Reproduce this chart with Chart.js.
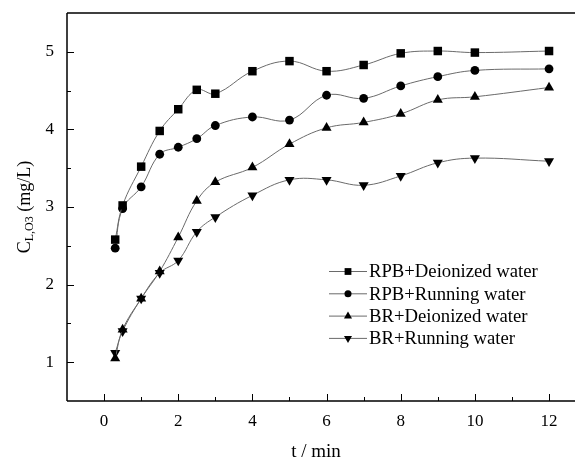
<!DOCTYPE html>
<html lang="en">
<head>
<meta charset="UTF-8">
<title>Ozone concentration vs time</title>
<script src="https://cdn.jsdelivr.net/npm/chart.js@4.4.0/dist/chart.umd.min.js"></script>
<style>
  html, body { margin: 0; padding: 0; background: #fff; }
  #wrap { width: 575px; height: 461px; }
</style>
</head>
<body>
<div id="wrap"><canvas id="myChart" width="575" height="461"></canvas></div>
<script>
// data
const times = [0.3, 0.5, 1, 1.5, 2, 2.5, 3, 4, 5, 6, 7, 8, 9, 10, 12];
const rpbDeionized = [2.58, 3.02, 3.52, 3.98, 4.26, 4.51, 4.46, 4.75, 4.88, 4.75, 4.83, 4.98, 5.01, 4.99, 5.01];
const rpbRunning   = [2.47, 2.98, 3.26, 3.68, 3.77, 3.88, 4.05, 4.16, 4.12, 4.44, 4.40, 4.56, 4.68, 4.76, 4.78];
const brDeionized  = [1.05, 1.42, 1.82, 2.17, 2.61, 3.08, 3.32, 3.51, 3.81, 4.02, 4.09, 4.20, 4.38, 4.42, 4.54];
const brRunning    = [1.12, 1.40, 1.82, 2.15, 2.31, 2.68, 2.87, 3.15, 3.35, 3.35, 3.28, 3.40, 3.57, 3.63, 3.59];

const seriesLabels = ["RPB+Deionized water", "RPB+Running water", "BR+Deionized water", "BR+Running water"];
const xTicks = [0, 1, 2, 3, 4, 5, 6, 7, 8, 9, 10, 11, 12];
const xTickLabels = [0, 2, 4, 6, 8, 10, 12];
const yTicks = [1, 1.5, 2, 2.5, 3, 3.5, 4, 4.5, 5];
const yTickLabels = [1, 2, 3, 4, 5];
const xTitle = "t / min";
const yTitleMain = "C";
const yTitleSub = "L,O3";
const yTitleUnit = " (mg/L)";

const FONT = "'Liberation Serif', 'Times New Roman', serif";

const markers = [
  { style: "rect", rot: 0, r: 6 },
  { style: "circle", rot: 0, r: 4.4 },
  { style: "triangle", rot: 0, r: 5.8 },
  { style: "triangle", rot: 180, r: 5.8 }
];

function pts(ys) {
  return times.map((t, i) => ({ x: t, y: ys[i] }));
}

const allSeries = [rpbDeionized, rpbRunning, brDeionized, brRunning];
const datasets = allSeries.map((ys, i) => ({
  label: seriesLabels[i],
  data: pts(ys),
  borderColor: "#6a6a6a",
  borderWidth: 1,
  tension: 0.4,
  fill: false,
  pointStyle: markers[i].style,
  rotation: markers[i].rot,
  pointRadius: markers[i].r,
  pointBackgroundColor: "#000",
  pointBorderColor: "#000",
  pointBorderWidth: 0
}));

function drawMarker(ctx, m, x, y, scale) {
  ctx.fillStyle = "#000";
  ctx.strokeStyle = "#000";
  if (Chart.helpers && Chart.helpers.drawPoint) {
    Chart.helpers.drawPoint(ctx, { pointStyle: m.style, rotation: m.rot, radius: m.r * scale, borderWidth: 0 }, x, y);
    return;
  }
  ctx.beginPath();
  ctx.arc(x, y, m.r * scale, 0, Math.PI * 2);
  ctx.fill();
}

// axes frame, inward ticks, titles and legend
const decorations = {
  id: "decorations",
  afterDraw(chart) {
    const ctx = chart.ctx;
    const a = chart.chartArea;
    const xs = chart.scales.x, ys = chart.scales.y;
    ctx.save();
    ctx.strokeStyle = "#000";
    ctx.lineWidth = 1.5;
    ctx.beginPath();
    ctx.moveTo(a.left, a.top); ctx.lineTo(a.right, a.top);
    ctx.moveTo(a.left, a.top); ctx.lineTo(a.left, a.bottom);
    ctx.moveTo(a.left, a.bottom); ctx.lineTo(a.right, a.bottom);
    ctx.stroke();

    ctx.lineWidth = 1;
    ctx.beginPath();
    xTicks.forEach(v => {
      const px = Math.round(xs.getPixelForValue(v)) + 0.5;
      const len = xTickLabels.includes(v) ? 7 : 4;
      ctx.moveTo(px, a.bottom);
      ctx.lineTo(px, a.bottom - len);
    });
    yTicks.forEach(v => {
      const py = Math.round(ys.getPixelForValue(v)) + 0.5;
      const len = yTickLabels.includes(v) ? 7 : 4;
      ctx.moveTo(a.left, py);
      ctx.lineTo(a.left + len, py);
    });
    ctx.stroke();

    // x title
    ctx.fillStyle = "#000";
    ctx.font = "19px " + FONT;
    ctx.textAlign = "center";
    ctx.textBaseline = "middle";
    ctx.fillText(xTitle, 316, 452);

    // y title with subscript
    ctx.save();
    ctx.translate(24, (a.top + a.bottom) / 2);
    ctx.rotate(-Math.PI / 2);
    ctx.textAlign = "left";
    ctx.textBaseline = "alphabetic";
    const mainFont = "18px " + FONT, subFont = "12px " + FONT;
    ctx.font = mainFont;
    const wMain = ctx.measureText(yTitleMain).width;
    const wUnit = ctx.measureText(yTitleUnit).width;
    ctx.font = subFont;
    const wSub = ctx.measureText(yTitleSub).width;
    const x0 = -(wMain + wSub + wUnit) / 2;
    ctx.font = mainFont;
    ctx.fillText(yTitleMain, x0, 6);
    ctx.font = subFont;
    ctx.fillText(yTitleSub, x0 + wMain, 9);
    ctx.font = mainFont;
    ctx.fillText(yTitleUnit, x0 + wMain + wSub, 6);
    ctx.restore();

    // legend
    const lx = 329, ly = 271.5, gap = 22.3;
    chart.data.datasets.forEach((ds, i) => {
      const y = ly + i * gap;
      ctx.strokeStyle = "#6a6a6a";
      ctx.lineWidth = 1;
      ctx.beginPath();
      ctx.moveTo(lx, y);
      ctx.lineTo(lx + 38, y);
      ctx.stroke();
      drawMarker(ctx, markers[i], lx + 19, y, 0.8);
      ctx.fillStyle = "#000";
      ctx.font = "18.7px " + FONT;
      ctx.textAlign = "left";
      ctx.textBaseline = "middle";
      ctx.fillText(ds.label, lx + 40, y + 1);
    });
    ctx.restore();
  }
};

function noPadding(s) {
  s.paddingLeft = 0;
  s.paddingRight = 0;
  s.paddingTop = 0;
  s.paddingBottom = 0;
}

new Chart("myChart", {
  type: "line",
  data: { datasets: datasets },
  options: {
    responsive: false,
    animation: false,
    devicePixelRatio: 1,
    layout: { autoPadding: false, padding: { top: 13, right: 0, left: 0, bottom: 0 } },
    plugins: { legend: { display: false }, tooltip: { enabled: false } },
    scales: {
      x: {
        type: "linear",
        min: -1,
        max: 12.7,
        grid: { display: false, drawTicks: false },
        border: { display: false },
        afterBuildTicks: s => { s.ticks = xTicks.map(v => ({ value: v })); },
        ticks: {
          autoSkip: false,
          maxRotation: 0,
          padding: 10,
          color: "#000",
          font: { family: FONT, size: 17 },
          callback: v => xTickLabels.includes(v) ? String(v) : ""
        },
        afterFit: s => { s.height = 60; noPadding(s); }
      },
      y: {
        min: 0.5,
        max: 5.5,
        grid: { display: false, drawTicks: false },
        border: { display: false },
        afterBuildTicks: s => { s.ticks = yTicks.map(v => ({ value: v })); },
        ticks: {
          autoSkip: false,
          padding: 13,
          color: "#000",
          font: { family: FONT, size: 17 },
          callback: v => yTickLabels.includes(v) ? String(v) : ""
        },
        afterFit: s => { s.width = 67; noPadding(s); }
      }
    }
  },
  plugins: [decorations]
});
</script>
</body>
</html>
